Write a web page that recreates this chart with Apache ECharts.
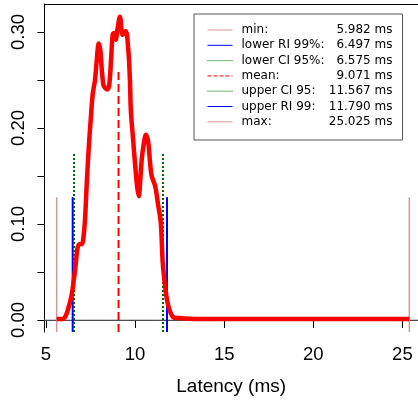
<!DOCTYPE html>
<html><head><meta charset="utf-8">
<script src="https://cdn.jsdelivr.net/npm/echarts@6/dist/echarts.min.js"></script>
<style>html,body{margin:0;padding:0;background:#fff}#c{width:418px;height:401px}</style>
</head><body><div id="c"></div>
<script>
// Density curve (latency in ms, density)
var densX = [5.60,5.90,6.07,6.25,6.44,6.57,6.68,6.76,6.87,7.00,7.09,7.19,7.30,7.41,7.51,7.62,7.75,7.85,7.96,8.05,8.13,8.22,8.31,8.44,8.55,8.65,8.74,8.81,8.91,9.02,9.15,9.30,9.47,9.62,9.71,9.76,9.88,10.00,10.12,10.21,10.27,10.37,10.50,10.61,10.74,10.84,10.93,11.12,11.30,11.44,11.55,11.68,11.81,11.96,12.14,12.42,13.6,16,20,25.39];
var densY = [0.001,0.001,0.003,0.012,0.026,0.043,0.060,0.074,0.079,0.079,0.084,0.105,0.147,0.183,0.209,0.235,0.250,0.271,0.288,0.281,0.261,0.245,0.242,0.240,0.245,0.271,0.297,0.299,0.292,0.304,0.316,0.297,0.301,0.281,0.250,0.219,0.190,0.162,0.138,0.129,0.140,0.167,0.185,0.193,0.185,0.164,0.150,0.140,0.119,0.102,0.060,0.036,0.019,0.009,0.003,0.002,0.001,0.001,0.001,0.001];
// Reference lines
var refNames  = ['min','lower RI 99%','lower CI 95%','mean','upper CI 95','upper RI 99','max'];
var refLabels = ['min:','lower RI 99%:','lower CI 95%:','mean:','upper CI 95:','upper RI 99:','max:'];
var refValues = ['5.982 ms','6.497 ms','6.575 ms','9.071 ms','11.567 ms','11.790 ms','25.025 ms'];
var refX      = [5.60,6.497,6.575,9.071,11.567,11.790,25.39];
var refH      = [0.128,0.128,0.1735,0.26,0.1735,0.128,0.128];
var xTicks = [5,10,15,20,25];
var yTicks = [0,0.05,0.10,0.15,0.20,0.25,0.30];
var yLabels = [0,0.10,0.20,0.30];

var X_MIN = 4.905, X_MAX = 25.876, Y_MIN = -0.0125, Y_MAX = 0.3292;
var refColor = ['#d09898','#0000ff','#006400','#ff0000','#006400','#0000ff','#d09898'];
var refType  = ['solid','solid','dotted','dashed','dotted','solid','solid'];
var refWidth = [1.5,2,2,2,2,2,1.5];

var chart = echarts.init(document.getElementById('c'), null, {renderer:'canvas'});
var series = [];
series.push({type:'line', name:'zero', data:[[X_MIN,0],[X_MAX,0]], showSymbol:false, symbol:'none', silent:true,
  lineStyle:{color:'#999999', width:1}, z:1, animation:false});
series.push({type:'line', name:'density', data:densX.map(function(x,i){return [x,densY[i]];}),
  showSymbol:false, symbol:'none', smooth:0.35, lineStyle:{color:'#ff0000', width:4.5}, z:3, animation:false});
refNames.forEach(function(n,i){
  series.push({type:'line', name:n, data:[[refX[i],Y_MIN],[refX[i],refH[i]]], showSymbol:false,
    symbol:'none', color:refColor[i],
    lineStyle:{color:refColor[i], width:refWidth[i], type:refType[i]}, z:2, animation:false});
});
var labelMap = {}; refNames.forEach(function(n,i){labelMap[n]=i;});

chart.setOption({
  animation:false,
  grid:{left:44.3, top:4, right:0, bottom:67.7, show:false},
  xAxis:[{type:'value', min:X_MIN, max:X_MAX, name:'Latency (ms)', nameLocation:'middle', nameGap:45,
    nameTextStyle:{fontFamily:'Liberation Sans', fontSize:19, color:'#000'},
    axisLine:{show:true, lineStyle:{color:'#000'}},
    axisTick:{show:true, length:8, customValues:xTicks, lineStyle:{color:'#000'}},
    axisLabel:{customValues:xTicks, fontFamily:'Liberation Sans', fontSize:18.5, color:'#000', margin:13},
    splitLine:{show:false}},
   {type:'value', position:'top', min:X_MIN, max:X_MAX,
    axisLine:{show:true, onZero:false, lineStyle:{color:'#000'}}, axisTick:{show:false}, axisLabel:{show:false}, splitLine:{show:false}}],
  yAxis:{type:'value', min:Y_MIN, max:Y_MAX,
    axisLine:{show:true, onZero:false, lineStyle:{color:'#000'}},
    axisTick:{show:true, length:7, customValues:yTicks, lineStyle:{color:'#000'}},
    axisLabel:{customValues:yLabels, rotate:90, fontFamily:'Liberation Sans', fontSize:18.5, color:'#000', margin:16,
      formatter:function(v){return v.toFixed(2);}},
    splitLine:{show:false}},
  legend:{data:refNames, orient:'vertical', left:194, top:14, itemWidth:25, itemHeight:12, itemGap:3.3,
    padding:[10,10,12.2,13], backgroundColor:'#fff', borderColor:'#555', borderWidth:1,
    itemStyle:{opacity:0}, lineStyle:{width:1},
    textStyle:{fontFamily:'DejaVu Sans', fontSize:12, color:'#000',
      rich:{a:{width:88, fontFamily:'DejaVu Sans', fontSize:12, padding:[0,0,0,4]}, b:{width:63, align:'right', fontFamily:'DejaVu Sans', fontSize:12}}},
    formatter:function(n){var i=labelMap[n]; return '{a|'+refLabels[i]+'}{b|'+refValues[i]+'}';}},
  series:series
});
</script></body></html>
